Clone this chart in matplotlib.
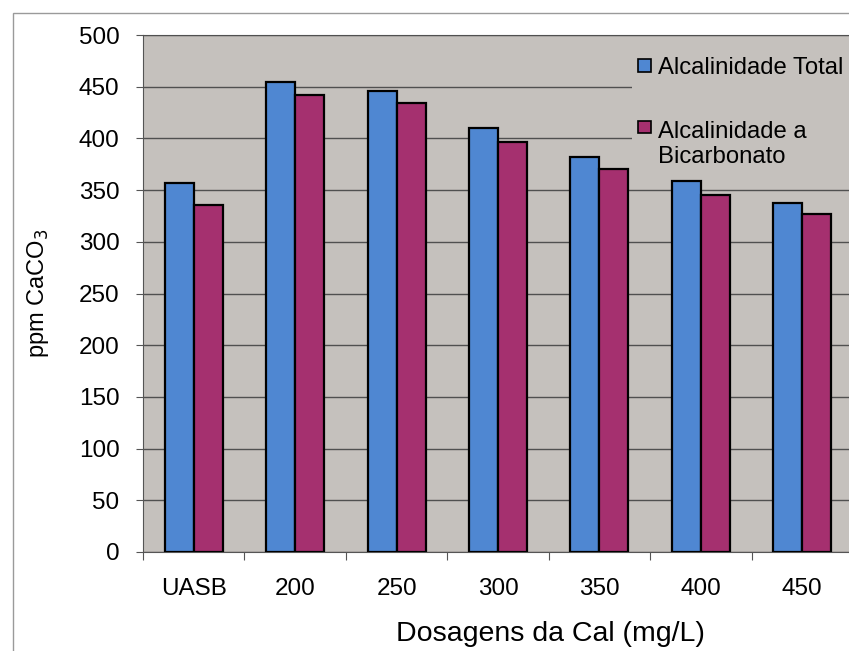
import numpy as np
import matplotlib
matplotlib.use("Agg")
import matplotlib.pyplot as plt
from matplotlib.patches import Rectangle

# alcalinidade por dosagem de cal (ppm CaCO3)
dosagens = ["UASB", "200", "250", "300", "350", "400", "450"]
alc_total = [357, 455, 446, 410, 382, 359, 338]
alc_bicarbonato = [336, 442, 434, 397, 370, 345, 327]
yticks = [0, 50, 100, 150, 200, 250, 300, 350, 400, 450, 500]

plt.rcParams['font.family'] = ['Liberation Sans', 'DejaVu Sans']

fundo = '#c5c1bd'
azul = '#4f87d2'
magenta = '#a5306f'

fig = plt.figure(figsize=(8.49, 6.51), dpi=100)
fig.patch.set_facecolor('white')

# moldura externa do grafico
fig.patches.append(Rectangle((13/849, -0.05), 1.2, 1 + 0.05 - 13/651,
                             transform=fig.transFigure, fill=False,
                             edgecolor='#9a9a9a', linewidth=1.0))

ax = fig.add_axes([143/849, 99/651, 710/849, 517/651])
ax.set_facecolor(fundo)

x = np.arange(len(dosagens))
w = 0.286
ax.bar(x - w/2, alc_total, w, color=azul, edgecolor='black', linewidth=1.6,
       label='Alcalinidade Total', zorder=3)
ax.bar(x + w/2, alc_bicarbonato, w, color=magenta, edgecolor='black', linewidth=1.6,
       label='Alcalinidade a\nBicarbonato', zorder=3)

ax.set_xlim(-0.5, len(dosagens) - 0.5)
ax.set_ylim(0, 500)
ax.set_yticks(yticks)
ax.set_yticklabels([str(v) for v in yticks], fontsize=17.5)
ax.yaxis.grid(True, color='#505050', linewidth=1.0, zorder=1)

# marcas nos limites das categorias, rotulos no centro
ax.set_xticks(np.arange(len(dosagens) + 1) - 0.5)
ax.set_xticklabels([])
ax.set_xticks(x, minor=True)
ax.set_xticklabels(dosagens, minor=True, fontsize=17.5)
ax.tick_params(axis='x', which='major', direction='out', length=5.5, color='#555555')
ax.tick_params(axis='x', which='minor', length=0, pad=19)
ax.tick_params(axis='y', direction='out', length=5, color='#555555', pad=12)

ax.spines['right'].set_visible(False)
ax.spines['top'].set_color('#505050')
ax.spines['left'].set_color('#555555')
ax.spines['bottom'].set_color('#555555')

ax.set_xlabel('Dosagens da Cal (mg/L)', fontsize=20.5)
ax.xaxis.set_label_coords((550 - 143) / 710, -0.133)
ax.set_ylabel('ppm CaCO$_3$', fontsize=17, labelpad=20)

leg = ax.legend(loc='upper left', bbox_to_anchor=(632/849, 1 - 51/651),
                bbox_transform=fig.transFigure, fontsize=17.2, frameon=True,
                facecolor=fundo, edgecolor='none', framealpha=1.0,
                handlelength=0.55, handleheight=0.42, handletextpad=0.3,
                labelspacing=1.75, borderpad=0.25, borderaxespad=0)
leg.get_frame().set_boxstyle('square', pad=0)
for h in leg.legend_handles:
    h.set_linewidth(1.2)

# marcador alinhado com a primeira linha do rotulo de duas linhas
for col in leg._legend_handle_box.get_children():
    for row in col.get_children():
        txt = row.get_children()[1]
        if '\n' in txt.get_text():
            row.align = 'top'

fig.savefig('out.png', dpi=100, facecolor='white')
